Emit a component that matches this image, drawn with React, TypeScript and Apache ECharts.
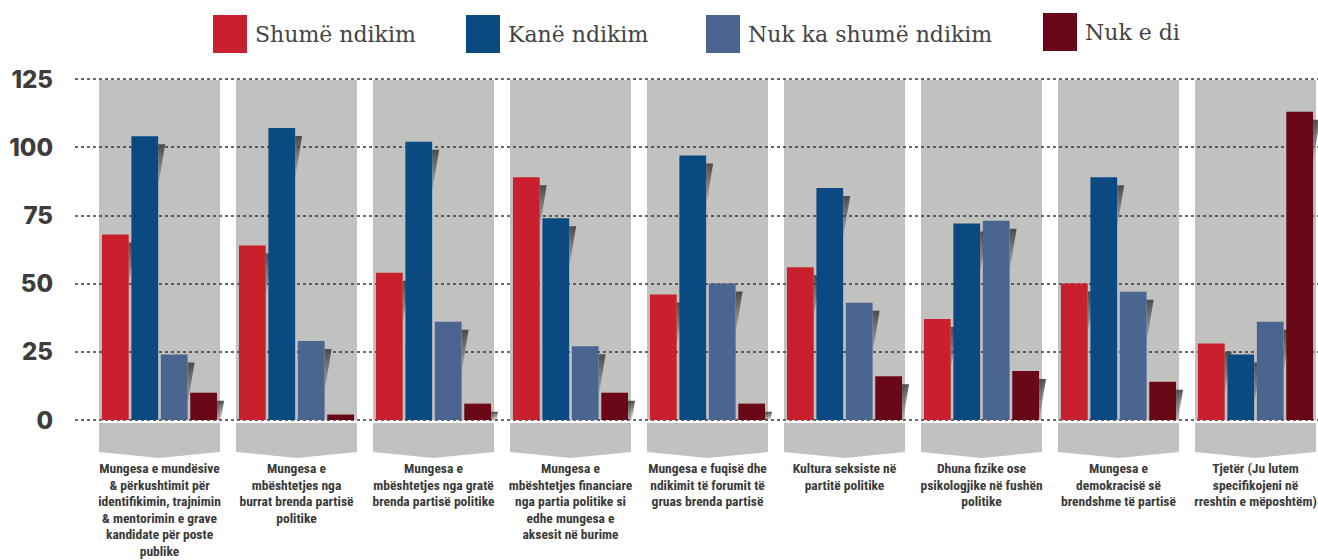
import React, { useEffect, useRef } from "react";
import * as echarts from "echarts";

const categories: string[] = [
  "Mungesa e mundësive\n& përkushtimit për\nidentifikimin, trajnimin\n& mentorimin e grave\nkandidate për poste\npublike",
  "Mungesa e\nmbështetjes nga\nburrat brenda partisë\npolitike",
  "Mungesa e\nmbështetjes nga gratë\nbrenda partisë politike",
  "Mungesa e\nmbështetjes financiare\nnga partia politike si\nedhe mungesa e\naksesit në burime",
  "Mungesa e fuqisë dhe\nndikimit të forumit të\ngruas brenda partisë",
  "Kultura seksiste në\npartitë politike",
  "Dhuna fizike ose\npsikologjike në fushën\npolitike",
  "Mungesa e\ndemokracisë së\nbrendshme të partisë",
  "Tjetër (Ju lutem\nspecifikojeni në\nrreshtin e mëposhtëm)",
];

const seriesNames: string[] = ["Shumë ndikim", "Kanë ndikim", "Nuk ka shumë ndikim", "Nuk e di"];
const shumeNdikim: number[] = [68, 64, 54, 89, 46, 56, 37, 50, 28];
const kaneNdikim: number[] = [104, 107, 102, 74, 97, 85, 72, 89, 24];
const nukKaShume: number[] = [24, 29, 36, 27, 50, 43, 73, 47, 36];
const nukEDi: number[] = [10, 2, 6, 10, 6, 16, 18, 14, 113];

const yMin = 0;
const yMax = 125;
const yInterval = 25;

const colors = ["#c9202e", "#0a4a80", "#4a658f", "#6a0818"];
const allValues = [shumeNdikim, kaneNdikim, nukKaShume, nukEDi];

const CAT_GAP = 0.16;
const BAR_GAP = 0.1;
const N = 4;

export default function App() {
  const ref = useRef<HTMLDivElement>(null);
  useEffect(() => {
    if (!ref.current) return;
    const chart = echarts.init(ref.current, null, { renderer: "svg" });

    const barGeom = (api: any, idx: number, s: number) => {
      const band = api.size([1, 0])[0];
      const cx = api.coord([idx, 0])[0];
      const avail = band * (1 - CAT_GAP);
      const w = avail / (N + (N - 1) * BAR_GAP);
      const left = cx - avail / 2 + s * w * (1 + BAR_GAP);
      return { left, w };
    };

    const bgSeries = {
      type: "custom",
      name: "bg",
      xAxisIndex: 1,
      yAxisIndex: 1,
      z: -1,
      silent: true,
      clip: false,
      data: categories.map((_, i) => [i, 0]),
      renderItem: (params: any, api: any) => {
        const idx = api.value(0);
        const band = api.size([1, 0])[0];
        const cx = api.coord([idx, 0])[0];
        const top = api.coord([idx, yMax])[1] + 1;
        const bottom = api.coord([idx, yMin])[1];
        const rw = band * 0.883;
        const l = cx - rw / 2;
        const r = cx + rw / 2;
        return {
          type: "group",
          children: [
            {
              type: "rect",
              shape: { x: l, y: top, width: rw, height: bottom - top },
              style: { fill: "#c1c1c0" },
            },
            {
              type: "polygon",
              shape: {
                points: [
                  [l, bottom + 3],
                  [r, bottom + 3],
                  [r, bottom + 32],
                  [cx, bottom + 38],
                  [l, bottom + 32],
                ],
              },
              style: { fill: "#c1c1c0" },
            },
          ],
        };
      },
    };

    const shadowSeries = allValues.map((vals, s) => ({
      type: "custom",
      name: "shadow" + s,
      xAxisIndex: 1,
      yAxisIndex: 1,
      z: 1,
      silent: true,
      clip: false,
      data: vals.map((v, i) => [i, v]),
      renderItem: (params: any, api: any) => {
        const idx = api.value(0);
        const v = api.value(1);
        const { left, w } = barGeom(api, idx, s);
        const R = left + w;
        const top = api.coord([idx, v])[1];
        const bottom = api.coord([idx, yMin])[1];
        const y0 = top + 8;
        if (y0 >= bottom) return null;
        const sw = 7;
        const len = 42;
        let pts: number[][];
        if (y0 + len <= bottom) {
          pts = [
            [R, y0],
            [R + sw, y0],
            [R, y0 + len],
          ];
        } else {
          const xb = R + sw - (sw * (bottom - y0)) / len;
          pts = [
            [R, y0],
            [R + sw, y0],
            [xb, bottom],
            [R, bottom],
          ];
        }
        return {
          type: "polygon",
          shape: { points: pts },
          style: {
            fill: {
              type: "linear",
              x: 0,
              y: 0,
              x2: 0,
              y2: 1,
              colorStops: [
                { offset: 0, color: "rgba(70,70,70,0.95)" },
                { offset: 1, color: "rgba(70,70,70,0.15)" },
              ],
            },
          },
        };
      },
    }));

    const barSeries = allValues.map((vals, s) => ({
      type: "bar",
      name: seriesNames[s],
      xAxisIndex: 1,
      yAxisIndex: 1,
      z: 2,
      data: vals,
      barCategoryGap: "16%",
      barGap: "10%",
      itemStyle: { color: colors[s] },
    }));

    const legendLeft = [213, 466, 706, 1043];
    const legendTop = [15, 15, 15, 13];
    const legends = seriesNames.map((n, i) => ({
      data: [n],
      left: legendLeft[i],
      top: legendTop[i],
      padding: 0,
      orient: "horizontal",
      icon: "rect",
      itemWidth: 34,
      itemHeight: 38,
      selectedMode: false,
      textStyle: {
        fontFamily: "'DejaVu Serif', Georgia, serif",
        fontSize: 22,
        color: "#444",
        padding: [0, 0, 0, 3],
      },
    }));

    chart.setOption({
      animation: false,
      legend: legends,
      grid: [
        { left: 75, right: 0, top: 79, height: 341, outerBoundsMode: "none", containLabel: false },
        { left: 91, width: 1233, top: 79, height: 341, outerBoundsMode: "none", containLabel: false },
      ],
      xAxis: [
        { type: "value", gridIndex: 0, show: false },
        {
          type: "category",
          gridIndex: 1,
          data: categories,
          axisLine: { show: false },
          axisTick: { show: false },
          axisLabel: {
            interval: 0,
            margin: 40,
            fontSize: 13.5,
            lineHeight: 16.5,
            fontWeight: "bold",
            color: "#3a3a3a",
            fontFamily: "'Roboto Condensed', 'Liberation Sans Narrow', 'DejaVu Sans Condensed', Roboto, sans-serif",
          },
        },
      ],
      yAxis: [
        {
          type: "value",
          gridIndex: 0,
          min: yMin,
          max: yMax,
          interval: yInterval,
          axisLine: { show: false },
          axisTick: { show: false },
          axisLabel: {
            margin: 22,
            fontSize: 24,
            fontWeight: 800,
            color: "#3d3d3d",
            padding: [6, 0, 0, 0],
            fontFamily: "Inter, 'Open Sans', sans-serif",
          },
          splitLine: {
            lineStyle: { color: "#3a3a3a", type: [3, 3], width: 1.5 },
          },
        },
        { type: "value", gridIndex: 1, min: yMin, max: yMax, show: false },
      ],
      series: [bgSeries, ...shadowSeries, ...barSeries],
    });
    return () => chart.dispose();
  }, []);
  return (
    <div
      ref={ref}
      style={{ position: "absolute", left: 0, top: 0, width: 1318, height: 560 }}
    />
  );
}
